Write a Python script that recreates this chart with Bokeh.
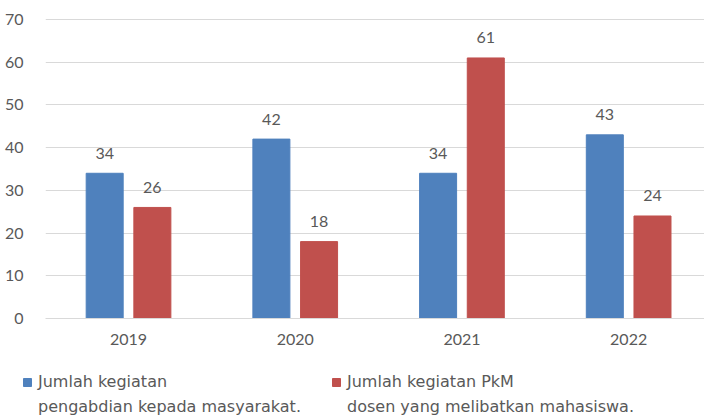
from bokeh.plotting import figure
from bokeh.layouts import column, row
from bokeh.models import Range1d, FixedTicker, Legend, LegendItem
from bokeh.core.properties import value
from bokeh.embed import file_html
from bokeh.resources import INLINE

years = ["2019", "2020", "2021", "2022"]
pengabdian = [34, 42, 34, 43]
pkm = [26, 18, 61, 24]
y_ticks = [0, 10, 20, 30, 40, 50, 60, 70]
series_labels = [
    ["Jumlah kegiatan", "pengabdian kepada masyarakat."],
    ["Jumlah kegiatan PkM", "dosen yang melibatkan mahasiswa."],
]
colors = ["#4F81BD", "#C0504D"]

FONT = "Lato"
FS = "16px"
LFONT = "DejaVu Sans"
LFS = "16px"
TXT = "#595959"
xs = list(range(1, len(years) + 1))
off = 0.143
bw = 0.222

p = figure(width=704, height=360, output_backend="svg", toolbar_location=None,
           x_range=Range1d(0.502, 4.455), y_range=Range1d(0, 70.94),
           min_border_left=45, min_border_right=0, min_border_top=15,
           min_border_bottom=42)
p.outline_line_color = None
p.xgrid.grid_line_color = None
p.ygrid.grid_line_color = "#d9d9d9"
p.ygrid.ticker = FixedTicker(ticks=y_ticks)

p.yaxis.ticker = FixedTicker(ticks=y_ticks)
p.yaxis.axis_line_color = None
p.yaxis.major_tick_line_color = None
p.yaxis.minor_tick_line_color = None
p.yaxis.major_label_standoff = 16
p.yaxis.major_label_text_font = FONT
p.yaxis.major_label_text_font_size = FS
p.yaxis.major_label_text_color = TXT

p.xaxis.ticker = FixedTicker(ticks=xs)
p.xaxis.major_label_overrides = {x: y for x, y in zip(xs, years)}
p.xaxis.axis_line_color = "#d9d9d9"
p.xaxis.major_tick_line_color = None
p.xaxis.minor_tick_line_color = None
p.xaxis.major_label_standoff = 9
p.xaxis.major_label_text_font = FONT
p.xaxis.major_label_text_font_size = FS
p.xaxis.major_label_text_color = TXT

x1 = [x - off for x in xs]
x2 = [x + off for x in xs]
b1 = p.vbar(x=x1, top=pengabdian, width=bw, fill_color=colors[0], line_color=colors[0])
b2 = p.vbar(x=x2, top=pkm, width=bw, fill_color=colors[1], line_color=colors[1])

for xx, vals in ((x1, pengabdian), (x2, pkm)):
    p.text(x=xx, y=vals, text=[str(v) for v in vals], text_align="center",
           text_baseline="alphabetic", y_offset=-20, text_font=value(FONT),
           text_font_size=FS, text_color=TXT)

# legend strip below the chart
lf = figure(width=704, height=56, output_backend="svg", toolbar_location=None,
            x_axis_type=None, y_axis_type=None,
            x_range=Range1d(0, 1), y_range=Range1d(0, 1),
            min_border_left=0, min_border_right=0, min_border_top=0,
            min_border_bottom=0)
lf.outline_line_color = None
lf.xgrid.visible = False
lf.ygrid.visible = False
sw1 = lf.vbar(x=x1, top=pengabdian, width=bw, fill_color=colors[0], line_color=colors[0], visible=False)
sw2 = lf.vbar(x=x2, top=pkm, width=bw, fill_color=colors[1], line_color=colors[1], visible=False)
blank = lf.vbar(x=x1, top=pengabdian, width=bw, fill_alpha=0, line_alpha=0, visible=False)

def mk_legend(lines, rend, loc):
    items = [LegendItem(label=lines[0], renderers=[rend]),
             LegendItem(label=lines[1], renderers=[blank])]
    return Legend(items=items, location=loc, orientation="vertical",
                  glyph_width=10, glyph_height=10, spacing=6,
                  label_standoff=6, padding=0, margin=0, border_line_color=None,
                  background_fill_alpha=0, label_text_font=LFONT,
                  label_text_font_size=LFS, label_text_color=TXT)

lf.add_layout(mk_legend(series_labels[0], sw1, (22, 0)))
lf.add_layout(mk_legend(series_labels[1], sw2, (331, 0)))

open("out.html", "w").write(file_html(column(p, row(lf), spacing=0), INLINE))
